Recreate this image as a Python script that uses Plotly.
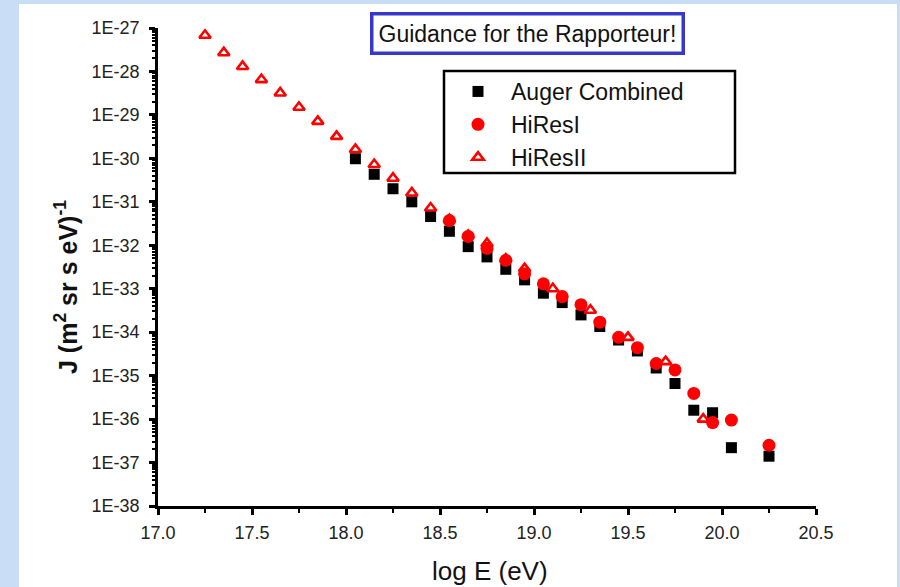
import plotly.graph_objects as go

# ---- data ----
auger_logE = [18.05, 18.15, 18.25, 18.35, 18.45, 18.55, 18.65, 18.75, 18.85, 18.95,
              19.05, 19.15, 19.25, 19.35, 19.45, 19.55, 19.65, 19.75, 19.85, 19.95,
              20.05, 20.25]
auger_J = [9.8e-31, 4.3e-31, 2.0e-31, 1.0e-31, 4.6e-32, 2.1e-32, 9.3e-33, 5.4e-33, 2.8e-33, 1.6e-33,
           7.9e-34, 4.8e-34, 2.5e-34, 1.35e-34, 6.6e-35, 3.7e-35, 1.5e-35, 6.6e-36, 1.6e-36, 1.4e-36,
           2.2e-37, 1.4e-37]

hires1_logE = [18.55, 18.65, 18.75, 18.85, 18.95, 19.05, 19.15, 19.25, 19.35, 19.45,
               19.55, 19.65, 19.75, 19.85, 19.95, 20.05, 20.25]
hires1_J = [3.7e-32, 1.6e-32, 8.5e-33, 4.5e-33, 2.2e-33, 1.3e-33, 6.6e-34, 4.3e-34, 1.7e-34, 7.6e-35,
            4.4e-35, 1.9e-35, 1.35e-35, 3.9e-36, 8.3e-37, 9.5e-37, 2.5e-37]

hires2_logE = [17.25, 17.35, 17.45, 17.55, 17.65, 17.75, 17.85, 17.95, 18.05, 18.15,
               18.25, 18.35, 18.45, 18.55, 18.65, 18.75, 18.85, 18.95, 19.10, 19.30,
               19.50, 19.70, 19.90]
hires2_J = [6.8e-28, 2.7e-28, 1.3e-28, 6.5e-29, 3.2e-29, 1.5e-29, 7.1e-30, 3.2e-30, 1.6e-30, 7.2e-31,
            3.5e-31, 1.6e-31, 7.2e-32, 3.9e-32, 1.7e-32, 1.1e-32, 4.8e-33, 2.9e-33, 1.0e-33, 3.2e-34,
            7.6e-35, 2.1e-35, 1.0e-36]

x_tickvals = [17.0, 17.5, 18.0, 18.5, 19.0, 19.5, 20.0, 20.5]
x_ticktext = ["17.0", "17.5", "18.0", "18.5", "19.0", "19.5", "20.0", "20.5"]
y_tickvals = [1e-38, 1e-37, 1e-36, 1e-35, 1e-34, 1e-33, 1e-32, 1e-31, 1e-30, 1e-29, 1e-28, 1e-27]
y_ticktext = ["1E-38", "1E-37", "1E-36", "1E-35", "1E-34", "1E-33", "1E-32", "1E-31",
              "1E-30", "1E-29", "1E-28", "1E-27"]

FONT = "Liberation Sans, Arial, sans-serif"

fig = go.Figure()
fig.add_trace(go.Scatter(x=auger_logE, y=auger_J, mode="markers", name="Auger Combined",
                         marker=dict(symbol="square", size=11, color="black")))
fig.add_trace(go.Scatter(x=hires1_logE, y=hires1_J, mode="markers", name="HiResI",
                         marker=dict(symbol="circle", size=13, color="#ff0000")))
fig.add_trace(go.Scatter(x=hires2_logE, y=hires2_J, mode="markers", name="HiResII",
                         marker=dict(symbol="triangle-up-open", size=10, color="#ff0000",
                                     line=dict(width=2.6, color="#ff0000"))))

L, R, T, B = 158, 84, 28, 81
W, H = 900, 587
pw, ph = W - L - R, H - T - B

def px_x(p):
    return (p - L) / pw

def px_y(p):
    return (H - B - p) / ph

fig.update_layout(
    width=W, height=H,
    margin=dict(l=L, r=R, t=T, b=B),
    paper_bgcolor="#c9def6",
    plot_bgcolor="white",
    font=dict(family=FONT, color="#222222"),
    showlegend=True,
    legend=dict(x=px_x(445), y=px_y(70), xanchor="left", yanchor="top",
                bgcolor="rgba(0,0,0,0)", borderwidth=0,
                font=dict(size=23, family=FONT, color="#111111"),
                itemwidth=56, tracegroupgap=0),
    xaxis=dict(range=[17.0, 20.5], tickvals=x_tickvals, ticktext=x_ticktext,
               showgrid=False, zeroline=False, showline=True, linecolor="black", linewidth=2.5,
               ticks="outside", ticklen=6, tickwidth=2.5, tickcolor="black",
               ticklabelstandoff=3,
               tickfont=dict(size=18, family=FONT, color="#222222"),
               minor=dict(dtick=0.25, ticks="outside", ticklen=4, tickwidth=2, tickcolor="black",
                          showgrid=False)),
    yaxis=dict(type="log", range=[-38, -27], tickvals=y_tickvals, ticktext=y_ticktext,
               showgrid=False, zeroline=False, showline=True, linecolor="black", linewidth=2.5,
               ticks="outside", ticklen=6, tickwidth=2.5, tickcolor="black",
               ticklabelstandoff=6,
               tickfont=dict(size=18, family=FONT, color="#222222"),
               minor=dict(dtick="D1", ticks="outside", ticklen=3, tickwidth=1.5, tickcolor="black",
                          showgrid=False)),
    shapes=[
        dict(type="rect", xref="paper", yref="paper", layer="below",
             x0=px_x(19), x1=px_x(897), y0=px_y(600), y1=px_y(4),
             fillcolor="white", line=dict(width=0)),
        dict(type="rect", xref="paper", yref="paper", layer="above",
             x0=px_x(444), x1=px_x(735), y0=px_y(173), y1=px_y(71),
             fillcolor="rgba(0,0,0,0)", line=dict(width=2.5, color="black")),
    ],
    annotations=[
        dict(text="Guidance for the Rapporteur!", xref="paper", yref="paper",
             x=px_x(527), y=px_y(34), xanchor="center", yanchor="middle", showarrow=False,
             font=dict(size=23, family=FONT, color="#111111"),
             bordercolor="#3838c8", borderwidth=3.5, borderpad=5, bgcolor="white"),
        dict(text="log E (eV)", xref="paper", yref="paper",
             x=px_x(490), y=px_y(571), xanchor="center", yanchor="middle", showarrow=False,
             font=dict(size=26, family=FONT, color="#111111")),
        dict(text="<b>J (m<sup>2</sup> sr s eV)<sup>-1</sup></b>", xref="paper", yref="paper",
             x=px_x(66), y=px_y(287), xanchor="center", yanchor="middle", showarrow=False,
             textangle=-90,
             font=dict(size=25, family=FONT, color="#111111")),
    ],
)

fig.write_html("out.html", config={"displayModeBar": False},
               post_script="document.body.style.margin='0px';")
